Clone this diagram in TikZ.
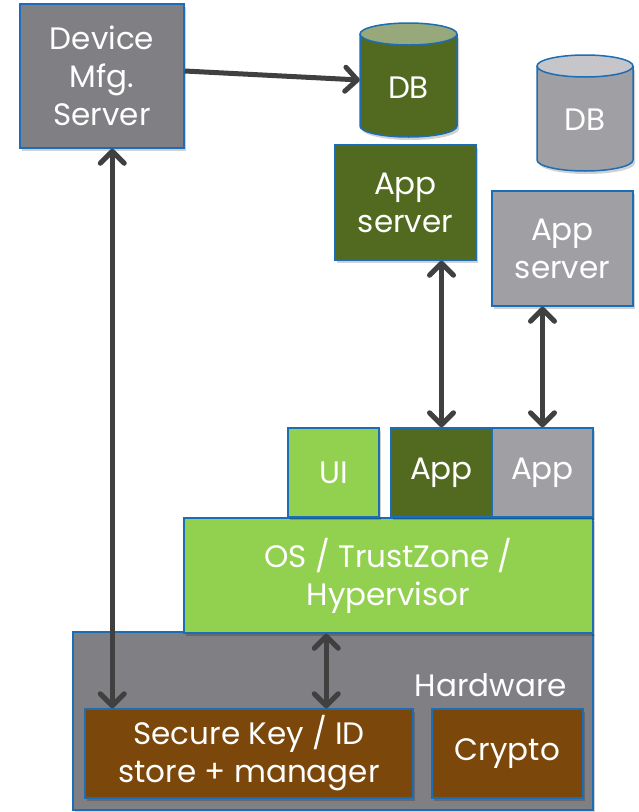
\documentclass[tikz,border=0pt]{standalone}
\usepackage{fontspec}
\setmainfont{Poppins}
\usetikzlibrary{arrows.meta,shadows,calc}
\definecolor{bordblue}{HTML}{1B6EB5}
\definecolor{devgray}{HTML}{807F84}
\definecolor{dkgreen}{HTML}{526A1F}
\definecolor{dkgreentop}{HTML}{97A87A}
\definecolor{ltgray}{HTML}{A09FA4}
\definecolor{ltgraytop}{HTML}{C6C6CA}
\definecolor{ltgreen}{HTML}{92D050}
\definecolor{brown}{HTML}{7B470B}
\definecolor{arrowgray}{HTML}{404040}
\tikzset{
  box/.style={draw=bordblue, line width=1.5pt, inner sep=0pt, text=white, align=center,
    font=\fontsize{31}{38}\selectfont,
    drop shadow={shadow xshift=2pt, shadow yshift=-3pt, opacity=0.18, fill=black}},
  lbl/.style={text=white, align=center, inner sep=0pt, font=\fontsize{31}{38}\selectfont},
  conn/.style={draw=arrowgray, line width=5pt,
    {Straight Barb[length=12pt,width=24pt,round]}-{Straight Barb[length=12pt,width=24pt,round]}},
  oneway/.style={draw=arrowgray, line width=5pt, -{Straight Barb[length=12pt,width=24pt,round]}},
  cylbody/.style={line width=1.5pt, draw=bordblue}
}
\begin{document}
\begin{tikzpicture}[x=1pt,y=-1pt]
\useasboundingbox (0,0) rectangle (638,812);
\fill[white] (0,0) rectangle (638,812);

% Hardware and layers
\node[box, fill=devgray, minimum width=520pt, minimum height=178pt] (hw) at (333,721) {};
\node[lbl] (hwl) at (491,685) {Hardware};
\node[box, fill=ltgreen, minimum width=409pt, minimum height=115pt] (os) at (388.5,575.5) {OS / TrustZone /\\Hypervisor};
\node[box, fill=ltgreen, minimum width=91pt, minimum height=89pt] (ui) at (333.5,472.5) {UI};
\node[box, fill=dkgreen, minimum width=101pt, minimum height=89pt] (appG) at (441.5,472.5) {App};
\node[box, fill=ltgray, minimum width=101pt, minimum height=89pt] (appY) at (542.5,472.5) {App};
\node[box, fill=brown, minimum width=328pt, minimum height=89pt] (sk) at (249,753.5) {Secure Key / ID\\store + manager};
\node[box, fill=brown, minimum width=151pt, minimum height=89pt] (cr) at (507.5,753.5) {Crypto};

% Servers
\node[box, fill=devgray, minimum width=164pt, minimum height=144pt] (dev) at (102,76) {Device\\Mfg.\\Server};
\node[box, fill=dkgreen, minimum width=141pt, minimum height=115pt] (asG) at (405.5,202.5) {App\\server};
\node[box, fill=ltgray, minimum width=141pt, minimum height=115pt] (asY) at (562.5,248.5) {App\\server};

% Green DB cylinder
\fill[black, opacity=0.18, xshift=2pt, yshift=-3pt] (360,34) -- (360,126) arc[start angle=180,end angle=0,x radius=48.5,y radius=11] -- (457,34) arc[start angle=0,end angle=180,x radius=48.5,y radius=11] -- cycle;
\fill[dkgreen] (360,34) -- (360,126) arc[start angle=180,end angle=0,x radius=48.5,y radius=11] -- (457,34) -- cycle;
\draw[cylbody] (360,34) -- (360,126) arc[start angle=180,end angle=0,x radius=48.5,y radius=11] -- (457,34);
\draw[cylbody, fill=dkgreentop] (408.5,34) ellipse[x radius=48.5, y radius=11];
\node[minimum width=97pt, minimum height=114pt, inner sep=0pt] (db1) at (408.5,80) {};
\node[lbl] (db1l) at ([yshift=-8pt]db1.center) {DB};

% Gray DB cylinder
\fill[black, opacity=0.18, xshift=2pt, yshift=-3pt] (537,66) -- (537,160) arc[start angle=180,end angle=0,x radius=48,y radius=11] -- (633,66) arc[start angle=0,end angle=180,x radius=48,y radius=11] -- cycle;
\fill[ltgray] (537,66) -- (537,160) arc[start angle=180,end angle=0,x radius=48,y radius=11] -- (633,66) -- cycle;
\draw[cylbody] (537,66) -- (537,160) arc[start angle=180,end angle=0,x radius=48,y radius=11] -- (633,66);
\draw[cylbody, fill=ltgraytop] (585,66) ellipse[x radius=48, y radius=11];
\node[minimum width=96pt, minimum height=116pt, inner sep=0pt] (db2) at (585,113) {};
\node[lbl] (db2l) at ([yshift=-7pt]db2.center) {DB};

% Connectors
\draw[oneway] ([yshift=5pt]dev.east) -- (db1.west);
\draw[conn] ([xshift=93pt]dev.south west) -- ([xshift=28pt]sk.north west);
\draw[conn] (appG.north |- asG.south) -- (appG.north);
\draw[conn] (appY.north |- asY.south) -- (appY.north);
\draw[conn] ([xshift=143pt]os.south west) -- ([xshift=143pt]os.south west |- sk.north);
\end{tikzpicture}
\end{document}
